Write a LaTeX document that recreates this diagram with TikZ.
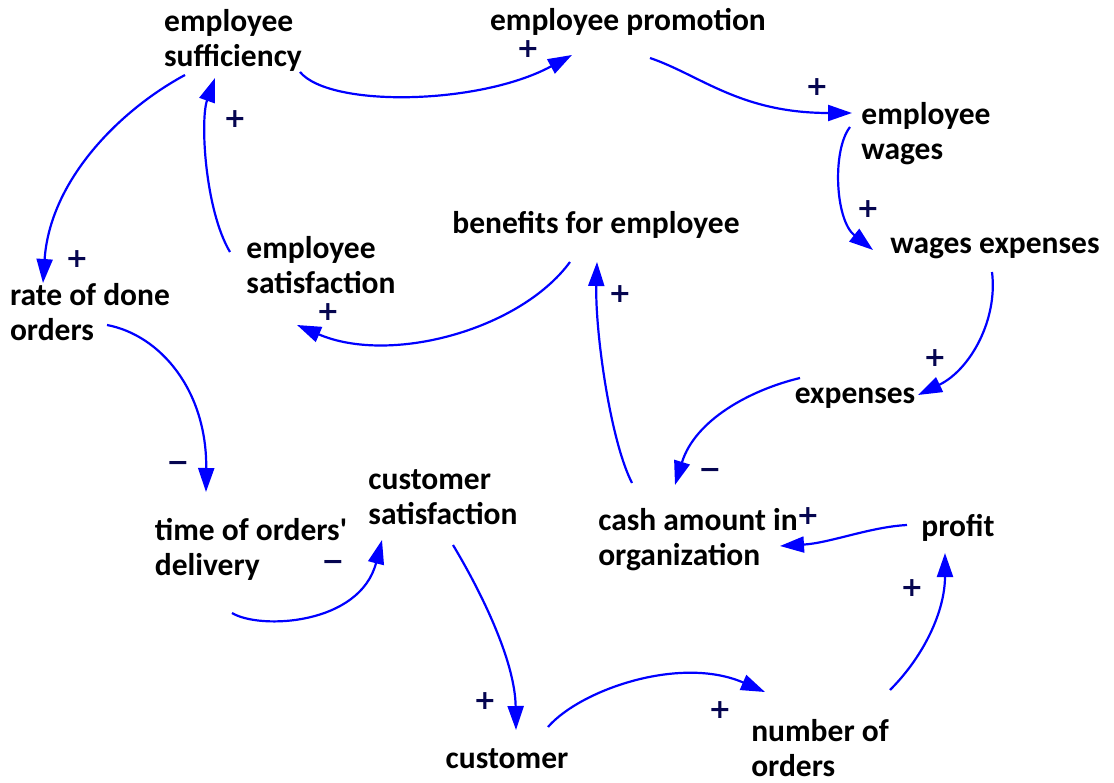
\documentclass[tikz,border=0pt]{standalone}
\usepackage{fontspec}
\setmainfont{Carlito}
\newfontfamily\plainq{Carlito}
\newfontfamily\signfont{DejaVu Sans Bold}
\usetikzlibrary{arrows.meta}
\definecolor{linkblue}{RGB}{0,0,255}
\definecolor{signcol}{RGB}{5,5,80}
\tikzset{
  lbl/.style={font=\fontsize{31.5}{35}\selectfont\bfseries, text=black, align=left, inner sep=0pt},
  sgn/.style={font=\signfont\fontsize{27}{27}\selectfont, text=signcol, inner sep=0pt, text height=19.4pt, text depth=0pt},
  link/.style={draw=linkblue, line width=2.2pt, -{Triangle[length=24pt,width=16pt]}}
}
\begin{document}
\begin{tikzpicture}[x=1pt,y=-1pt]
\useasboundingbox (0,0) rectangle (1114,783);
\fill[white] (0,0) rectangle (1114,783);
% nodes
\node[lbl] (suf) at (233,40) {employee\\sufficiency};
\node[lbl] (prom) at (628,22) {employee promotion};
\node[lbl] (wag) at (926,134) {employee\\wages};
\node[lbl] (wexp) at (995,248) {wages expenses};
\node[lbl] (ben) at (596,225) {benefits for employee};
\node[lbl] (esat) at (321,265) {employee\\satisfaction};
\node[lbl] (rate) at (90,312) {rate of done\\orders};
\node[lbl] (exps) at (855,398) {expenses};
\node[lbl] (time) at (251,549) {time of orders{\plainq\bfseries'}\\delivery};
\node[lbl] (csat) at (443,497) {customer\\satisfaction};
\node[lbl] (cash) at (698,540) {cash amount in\\organization};
\node[lbl] (profit) at (958,528) {profit};
\node[lbl] (cust) at (507,759) {customer};
\node[lbl] (nord) at (820,748) {number of\\orders};
% connectors
\draw[link] ([shift={(67,32)}]suf.center) .. controls (330,108) and (480,105) .. ([shift={(-56,33)}]prom.center);
\draw[link] ([shift={(22,36)}]prom.center) .. controls (700,75) and (740,113) .. ([shift={(-74,-21)}]wag.center);
\draw[link] ([shift={(-76,-7)}]wag.center) .. controls (832,150) and (835,220) .. ([shift={(-122,2)}]wexp.center);
\draw[link] ([shift={(-3,24)}]wexp.center) .. controls (998,320) and (970,370) .. ([shift={(63,-3)}]exps.center);
\draw[link] ([shift={(-55,-20)}]exps.center) .. controls (750,390) and (695,420) .. ([shift={(-23,-55)}]cash.center);
\draw[link] ([shift={(-66,-57)}]cash.center) .. controls (610,440) and (595,330) .. ([shift={(1,37)}]ben.center);
\draw[link] ([shift={(-26,37)}]ben.center) .. controls (520,330) and (390,365) .. ([shift={(-24,60)}]esat.center);
\draw[link] ([shift={(-91,-13)}]esat.center) .. controls (205,210) and (200,120) .. ([shift={(-18,38)}]suf.center);
\draw[link] ([shift={(-48,35)}]suf.center) .. controls (120,110) and (50,180) .. ([shift={(-47,-29)}]rate.center);
\draw[link] ([shift={(17,13)}]rate.center) .. controls (160,335) and (207,390) .. ([shift={(-45,-57)}]time.center);
\draw[link] ([shift={(-19,64)}]time.center) .. controls (260,630) and (360,625) .. ([shift={(-61,43)}]csat.center);
\draw[link] ([shift={(10,48)}]csat.center) .. controls (480,590) and (515,660) .. ([shift={(9,-29)}]cust.center);
\draw[link] ([shift={(41,-32)}]cust.center) .. controls (580,690) and (680,655) .. ([shift={(-55,-56)}]nord.center);
\draw[link] ([shift={(70,-58)}]nord.center) .. controls (925,655) and (945,610) .. ([shift={(-13,25)}]profit.center);
\draw[link] ([shift={(-51,-3)}]profit.center) .. controls (870,527) and (830,543) .. ([shift={(82,6)}]cash.center);
% signs
\node[sgn] (s1) at (528,48) {+};
\node[sgn] (s2) at (817,86) {+};
\node[sgn] (s3) at (868,208) {+};
\node[sgn] (s4) at (935,357) {+};
\node[sgn] (s5) at (710,469) {−};
\node[sgn] (s6) at (620,293) {+};
\node[sgn] (s7) at (328,311) {+};
\node[sgn] (s8) at (235,118) {+};
\node[sgn] (s9) at (77,258) {+};
\node[sgn] (s10) at (178,462) {−};
\node[sgn] (s11) at (333,561) {−};
\node[sgn] (s12) at (485,700) {+};
\node[sgn] (s13) at (720,709) {+};
\node[sgn] (s14) at (912,587) {+};
\node[sgn] (s15) at (808,515) {+};
\end{tikzpicture}
\end{document}
